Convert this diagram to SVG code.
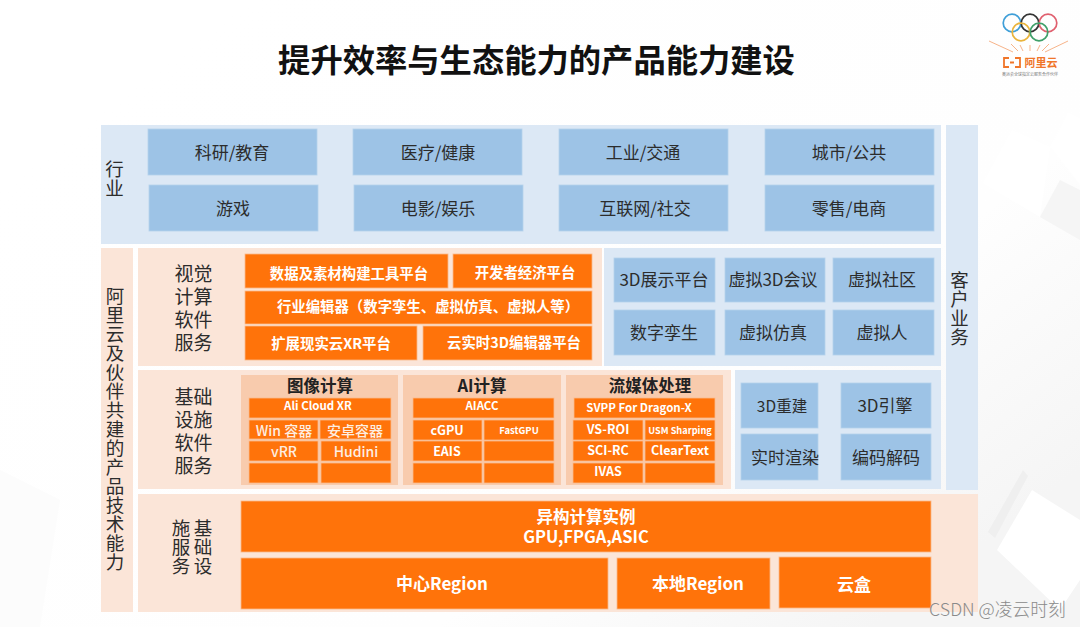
<svg xmlns="http://www.w3.org/2000/svg" width="1080" height="627" viewBox="0 0 1080 627">
<defs>
<linearGradient id="bg" x1="0.15" y1="0.1" x2="1" y2="0.75"><stop offset="0" stop-color="#fff"/><stop offset=".7" stop-color="#fefefe"/><stop offset="1" stop-color="#f5f5f5"/></linearGradient>
</defs>
<style>
text{font-family:"Noto Sans CJK SC","Liberation Sans",sans-serif;text-anchor:middle;dominant-baseline:central;transform:translateY(-1.5px)}
.lb{fill:#dce8f5}.lo{fill:#fbe5d8}.pan{fill:#f8cbad}
.b{fill:#9dc3e6;stroke:#b5d2ec;stroke-width:.8}.o{fill:#ff730a;stroke:#fbb98a;stroke-width:.8}
.d{fill:#2c2c2c;font-size:19px}.v{writing-mode:vertical-rl;font-size:18.5px;letter-spacing:.5px}.s{fill:#2c2c2c;font-size:17px}
.w{fill:#fff;font-weight:700;font-size:14.4px}.c{fill:#fdeee2;font-weight:500;font-size:14px}
.h{fill:#222;font-weight:700;font-size:16.5px}
.m{font-size:11.5px}.t{font-size:9.5px}.cg{font-size:12.5px}.u{font-size:9.2px}.big{font-size:17px}.he{font-size:16.5px}.sm{font-size:15.5px}
.ring{fill:none;stroke-width:1.7}
</style>
<rect width="1080" height="627" fill="url(#bg)"/>
<g id="background">
<polygon points="1012,130 1050,147 1040,217 983,183" fill="#fff"/>
<polygon points="1068,112 1080,118 1080,185 1050,147" fill="#fff"/>
<polygon points="1060,180 1080,190 1080,240 1040,217" fill="#f5f5f5"/>
<polygon points="1023,470 1028,476 995,538 988,532" fill="#efefef"/>
<polygon points="1032,490 1080,520 1080,580 1060,610 997,550" fill="#fff"/>
<polygon points="0,470 60,500 40,627 0,627" fill="#fcfcfc"/>
</g>
<text id="title" x="536.5" y="59.5" font-size="32.3" font-weight="700" fill="#111">提升效率与生态能力的产品能力建设</text>
<g id="logo">
<circle class="ring" cx="1012" cy="23" r="8.8" stroke="#3f9fd8"/>
<circle class="ring" cx="1030" cy="23" r="8.8" stroke="#333"/>
<circle class="ring" cx="1048" cy="23" r="8.8" stroke="#e0606f"/>
<circle class="ring" cx="1021" cy="32" r="8.8" stroke="#eab43c"/>
<circle class="ring" cx="1039" cy="32" r="8.8" stroke="#3fa06a"/>
<path d="M989 41L1013 52M1068 41L1045 52M1011 44L1018 51M1049 44L1042 51M1020 45L1023 51M1040 45L1037 51M1030 45V51" stroke="#f7b48a" stroke-width="1" fill="none"/>
<text x="1041" y="63.5" font-size="11" font-weight="700" fill="#f0762a">阿里云</text>
<path d="M1009 58h-5v9h5M1015 58h5v9h-5M1010 62.5h4" stroke="#f0762a" stroke-width="1.8" fill="none"/>
<text x="1030" y="75" font-size="4" fill="#777">奥运会全球指定云服务合作伙伴</text>
</g>
<g id="panels">
<rect class="lb" x="101" y="125" width="840" height="119"/>
<rect class="lb" x="946" y="125" width="32" height="365"/>
<rect class="lo" x="101" y="248" width="32" height="364"/>
<rect class="lo" x="138" y="248" width="464" height="118"/>
<rect class="lb" x="604" y="248" width="337" height="118"/>
<rect class="lo" x="138" y="370" width="593" height="119"/>
<rect class="lb" x="735" y="370" width="206" height="119"/>
<rect class="lo" x="138" y="494" width="840" height="118"/>
<rect class="pan" x="241" y="375" width="157" height="110"/>
<rect class="pan" x="403" y="375" width="158" height="110"/>
<rect class="pan" x="566" y="375" width="157" height="110"/>
</g>
<g id="side-labels">
<text class="d v" x="114.5" y="180">行业</text>
<text class="d v" x="959.5" y="310">客户业务</text>
<text class="d v" x="115" y="431">阿里云及伙伴共建的产品技术能力</text>
<text class="d"><tspan x="193.5" y="273">视觉</tspan><tspan x="193.5" y="296">计算</tspan><tspan x="193.5" y="319">软件</tspan><tspan x="193.5" y="342">服务</tspan></text>
<text class="d"><tspan x="193.5" y="396">基础</tspan><tspan x="193.5" y="419">设施</tspan><tspan x="193.5" y="442">软件</tspan><tspan x="193.5" y="465">服务</tspan></text>
<text class="d v" x="203" y="549">基础设</text>
<text class="d v" x="181" y="549">施服务</text>
</g>
<g id="industry">
<g id="n-keyan"><rect class="b" x="148" y="129" width="169" height="46"/><text class="s" x="232" y="153">科研/教育</text></g>
<g id="n-yiliao"><rect class="b" x="353" y="129" width="169" height="46"/><text class="s" x="438" y="153">医疗/健康</text></g>
<g id="n-gongye"><rect class="b" x="559" y="129" width="169" height="46"/><text class="s" x="643" y="153">工业/交通</text></g>
<g id="n-chengshi"><rect class="b" x="765" y="129" width="169" height="46"/><text class="s" x="849" y="153">城市/公共</text></g>
<g id="n-youxi"><rect class="b" x="149" y="185" width="169" height="46"/><text class="s" x="233" y="209">游戏</text></g>
<g id="n-dianying"><rect class="b" x="354" y="185" width="169" height="46"/><text class="s" x="438" y="209">电影/娱乐</text></g>
<g id="n-hulian"><rect class="b" x="559" y="185" width="169" height="46"/><text class="s" x="645" y="209">互联网/社交</text></g>
<g id="n-lingshou"><rect class="b" x="765" y="185" width="169" height="46"/><text class="s" x="849" y="209">零售/电商</text></g>
</g>
<g id="vision-software">
<g id="n-data"><rect class="o" x="245" y="254" width="203" height="34"/><text class="w" x="349" y="274">数据及素材构建工具平台</text></g>
<g id="n-dev"><rect class="o" x="453" y="254" width="139" height="34"/><text class="w" x="525" y="273">开发者经济平台</text></g>
<g id="n-editor"><rect class="o" x="245" y="291" width="347" height="33"/><text class="w" x="428" y="307">行业编辑器（数字孪生、虚拟仿真、虚拟人等）</text></g>
<g id="n-xr"><rect class="o" x="245" y="326" width="172" height="34"/><text class="w" x="331" y="344">扩展现实云XR平台</text></g>
<g id="n-3d"><rect class="o" x="423" y="326" width="169" height="34"/><text class="w" x="514" y="343">云实时3D编辑器平台</text></g>
</g>
<g id="virtual">
<g id="n-3dshow"><rect class="b" x="614" y="258" width="101" height="44"/><text class="s" x="664" y="280">3D展示平台</text></g>
<g id="n-3dmeet"><rect class="b" x="725" y="258" width="100" height="44"/><text class="s" x="773" y="280">虚拟3D会议</text></g>
<g id="n-comm"><rect class="b" x="833" y="258" width="101" height="44"/><text class="s" x="882" y="280">虚拟社区</text></g>
<g id="n-twin"><rect class="b" x="614" y="310" width="101" height="45"/><text class="s" x="664" y="333">数字孪生</text></g>
<g id="n-sim"><rect class="b" x="725" y="310" width="100" height="45"/><text class="s" x="773" y="333">虚拟仿真</text></g>
<g id="n-human"><rect class="b" x="833" y="310" width="101" height="45"/><text class="s" x="882" y="333">虚拟人</text></g>
</g>
<g id="image-compute">
<text class="h" x="320" y="386">图像计算</text>
<g id="n-alixr"><rect class="o" x="249" y="398" width="142" height="20"/><text class="w m" x="318" y="406">Ali Cloud XR</text></g>
<g id="n-win"><rect class="o" x="249" y="420" width="69" height="19"/><text class="c" x="284" y="431">Win 容器</text></g>
<g id="n-android"><rect class="o" x="320" y="420" width="71" height="19"/><text class="c" x="355" y="431">安卓容器</text></g>
<g id="n-vrr"><rect class="o" x="249" y="441" width="69" height="20"/><text class="c" x="284" y="452">vRR</text></g>
<g id="n-hudini"><rect class="o" x="321" y="441" width="70" height="20"/><text class="c" x="356" y="452">Hudini</text></g>
<rect class="o" x="249" y="463" width="69" height="20"/><rect class="o" x="321" y="463" width="70" height="20"/>
</g>
<g id="ai-compute">
<text class="h" x="482" y="386">AI计算</text>
<g id="n-aiacc"><rect class="o" x="413" y="398" width="141" height="20"/><text class="w m" x="482" y="406">AIACC</text></g>
<g id="n-cgpu"><rect class="o" x="413" y="420" width="69" height="20"/><text class="w cg" x="447" y="431">cGPU</text></g>
<g id="n-fastgpu"><rect class="o" x="484" y="420" width="70" height="20"/><text class="w t" x="519" y="431">FastGPU</text></g>
<g id="n-eais"><rect class="o" x="413" y="441" width="69" height="20"/><text class="w cg" x="447" y="452">EAIS</text></g>
<rect class="o" x="484" y="441" width="70" height="20"/><rect class="o" x="413" y="463" width="69" height="20"/><rect class="o" x="484" y="463" width="70" height="20"/>
</g>
<g id="stream">
<text class="h" x="650" y="386">流媒体处理</text>
<g id="n-svpp"><rect class="o" x="574" y="398" width="141" height="20"/><text class="w m" x="639" y="408">SVPP For Dragon-X</text></g>
<g id="n-vsroi"><rect class="o" x="573" y="420" width="70" height="20"/><text class="w cg" x="608" y="430">VS-ROI</text></g>
<g id="n-usm"><rect class="o" x="645" y="420" width="70" height="20"/><text class="w u" x="680" y="431">USM Sharping</text></g>
<g id="n-scirc"><rect class="o" x="573" y="441" width="70" height="20"/><text class="w cg" x="608" y="451">SCI-RC</text></g>
<g id="n-clear"><rect class="o" x="645" y="441" width="70" height="20"/><text class="w cg" x="680" y="451">ClearText</text></g>
<g id="n-ivas"><rect class="o" x="573" y="463" width="70" height="20"/><text class="w cg" x="608" y="472">IVAS</text></g>
<rect class="o" x="645" y="463" width="70" height="20"/>
</g>
<g id="base-tools">
<g id="n-recon"><rect class="b" x="741" y="383" width="77" height="45"/><text class="s sm" x="782" y="406">3D重建</text></g>
<g id="n-engine"><rect class="b" x="841" y="383" width="90" height="45"/><text class="s" x="885" y="406">3D引擎</text></g>
<g id="n-render"><rect class="b" x="741" y="434" width="77" height="46"/><text class="s" x="785" y="458">实时渲染</text></g>
<g id="n-codec"><rect class="b" x="841" y="434" width="90" height="46"/><text class="s" x="886" y="458">编码解码</text></g>
</g>
<g id="infrastructure">
<g id="n-hetero"><rect class="o" x="241" y="501" width="690" height="51"/><text class="w he"><tspan x="586" y="517">异构计算实例</tspan><tspan x="586" y="537">GPU,FPGA,ASIC</tspan></text></g>
<g id="n-center"><rect class="o" x="241" y="558" width="367" height="51"/><text class="w big" x="442" y="584">中心Region</text></g>
<g id="n-local"><rect class="o" x="617" y="558" width="153" height="51"/><text class="w big" x="698" y="584">本地Region</text></g>
<g id="n-box"><rect class="o" x="779" y="557" width="152" height="51"/><text class="w big" x="854" y="585">云盒</text></g>
</g>
<text id="watermark" x="997.5" y="609" font-size="17.8" fill="#8a8a8a" font-weight="300">CSDN @凌云时刻</text>
</svg>
